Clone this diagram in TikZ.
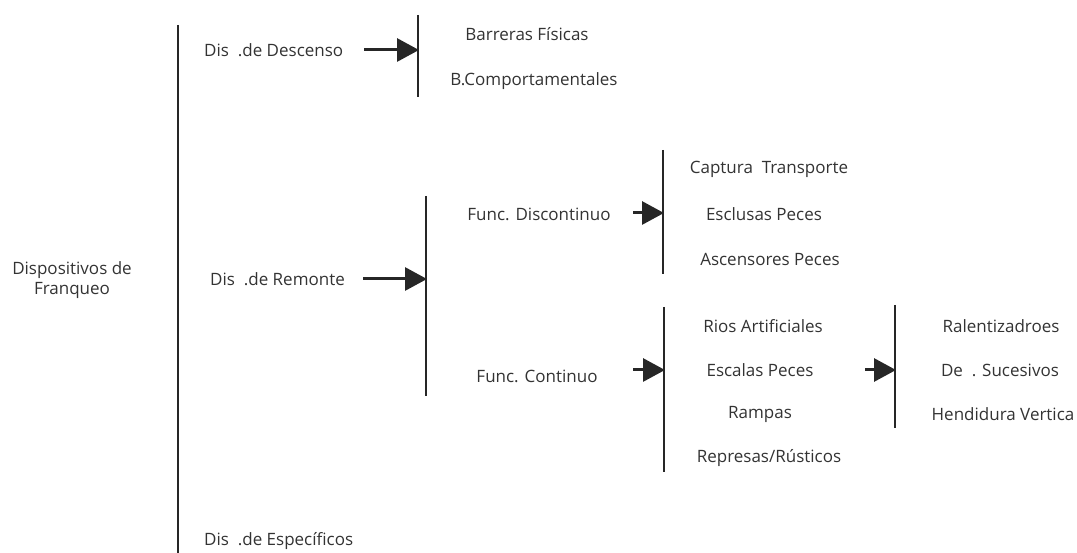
\documentclass[tikz,border=0pt]{standalone}
\usepackage{fontspec}
\setmainfont{Open Sans}
\usetikzlibrary{arrows.meta}
\definecolor{txt}{HTML}{333333}
\begin{document}
\begin{tikzpicture}[x=1pt,y=-1pt,
  lbl/.style={text=txt,font=\fontsize{17}{20}\selectfont,inner sep=0pt,anchor=center},
  bar/.style={line width=2pt,draw=black!85},
  arr/.style={line width=3pt,draw=black!85,-{Triangle[length=22pt,width=23pt]},shorten >=-1pt}]
\useasboundingbox (0,0) rectangle (1077,553);
% main bar
\coordinate (m1) at (178,25); \coordinate (m2) at (178,553);
\draw[bar] (m1) -- (m2);
\node[lbl,align=center] (root) at (72,280) {Dispositivos de\\Franqueo};
% descenso
\node[lbl,anchor=west] (desc) at (204,50) {Dis\ \ .de Descenso};
\coordinate (d1) at (418,15); \coordinate (d2) at (418,97); \coordinate (dm) at (418,50);
\draw[bar] (d1) -- (d2);
\coordinate (da) at (364,50);
\draw[arr] (da) -- (dm);
\node[lbl] (bf) at (527,34) {Barreras Físicas};
\node[lbl] (bc) at (534,81) {B.Comportamentales};
% remonte
\node[lbl,anchor=west] (rem) at (210,279) {Dis\ \ .de Remonte};
\coordinate (r1) at (426,196); \coordinate (r2) at (426,396); \coordinate (rm) at (426,279);
\draw[bar] (r1) -- (r2);
\coordinate (ra) at (363,279);
\draw[arr] (ra) -- (rm);
% discontinuo
\node[lbl] (fd) at (539,214) {Func. Discontinuo};
\coordinate (fd1) at (663,150); \coordinate (fd2) at (663,274); \coordinate (fdm) at (663,213);
\draw[bar] (fd1) -- (fd2);
\coordinate (fda) at (633,213);
\draw[arr] (fda) -- (fdm);
\node[lbl] (ct) at (769,169) {Captura\ \ Transporte};
\node[lbl] (ep) at (764,214) {Esclusas Peces};
\node[lbl] (ap) at (770,259) {Ascensores Peces};
% continuo
\node[lbl] (fc) at (537,376) {Func. Continuo};
\coordinate (fc1) at (664,307); \coordinate (fc2) at (664,472); \coordinate (fcm) at (664,370);
\draw[bar] (fc1) -- (fc2);
\coordinate (fca) at (633,370);
\draw[arr] (fca) -- (fcm);
\node[lbl] (ra1) at (763,326) {Rios Artificiales};
\node[lbl] (es) at (760,370) {Escalas Peces};
\node[lbl] (rp) at (760,414) {Rampas};
\node[lbl] (rr) at (769,458) {Represas/Rústicos};
% escalas
\coordinate (e1) at (895,305); \coordinate (e2) at (895,428); \coordinate (em) at (895,370);
\draw[bar] (e1) -- (e2);
\coordinate (ea) at (865,370);
\draw[arr] (ea) -- (em);
\node[lbl] (ral) at (1001,326) {Ralentizadroes};
\node[lbl] (ds) at (1000,370) {De\ \ . Sucesivos};
\node[lbl] (hv) at (1003,414) {Hendidura Vertica};
% especificos
\node[lbl,anchor=west] (esp) at (204,541) {Dis\ \ .de Específicos};
\end{tikzpicture}
\end{document}
